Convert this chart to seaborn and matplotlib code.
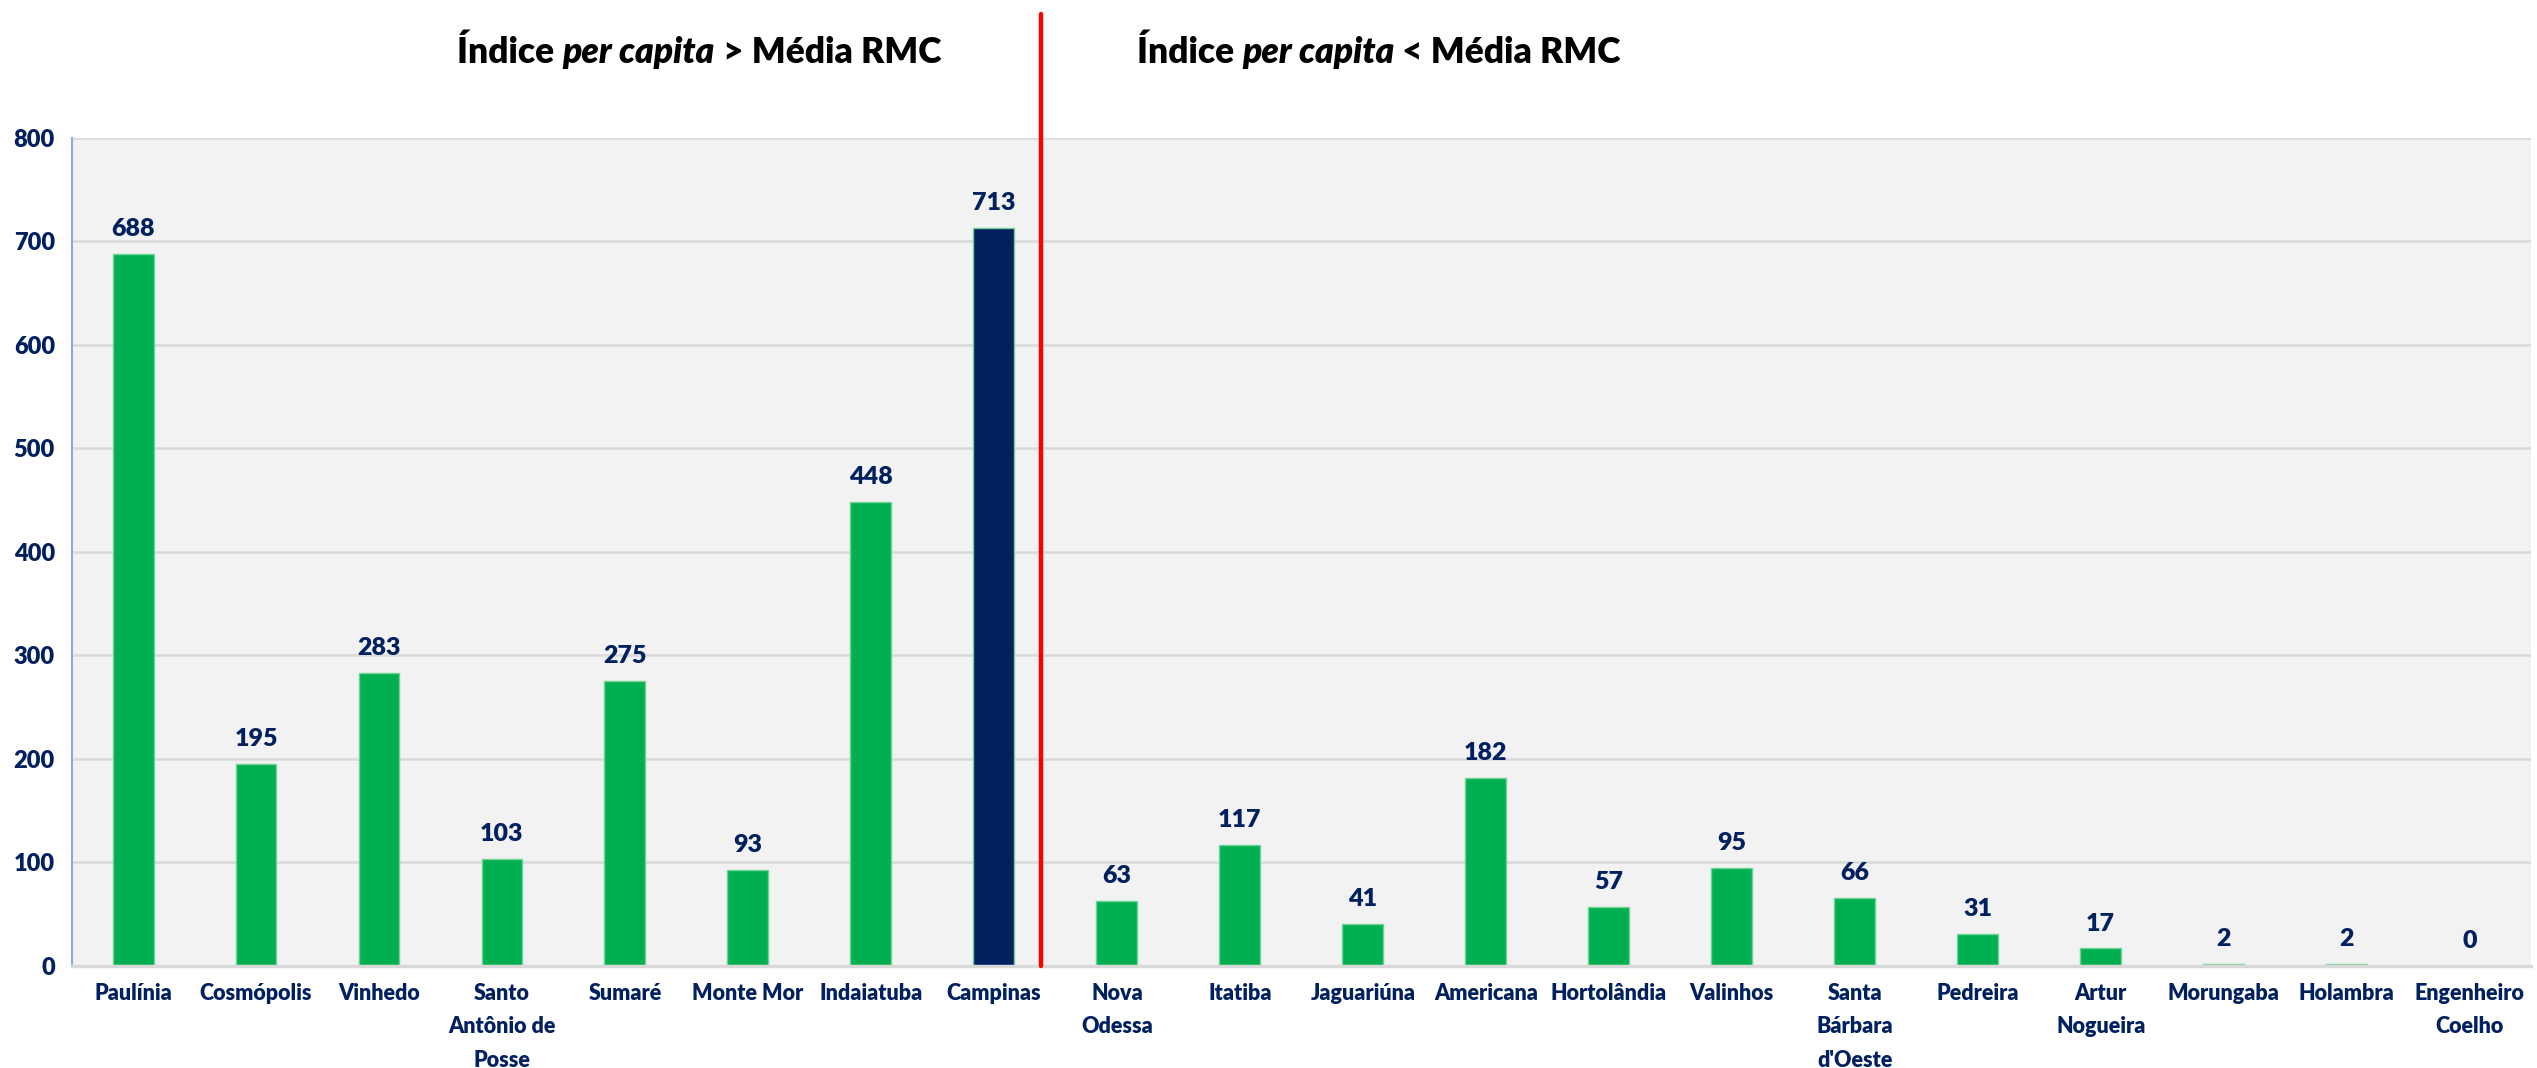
import matplotlib
matplotlib.use("Agg")
import matplotlib.pyplot as plt
import seaborn as sns

# Dados por municipio
municipios = ["Paulínia", "Cosmópolis", "Vinhedo", "Santo\nAntônio de\nPosse", "Sumaré",
              "Monte Mor", "Indaiatuba", "Campinas", "Nova\nOdessa", "Itatiba",
              "Jaguariúna", "Americana", "Hortolândia", "Valinhos", "Santa\nBárbara\nd'Oeste",
              "Pedreira", "Artur\nNogueira", "Morungaba", "Holambra", "Engenheiro\nCoelho"]
valores = [688, 195, 283, 103, 275, 93, 448, 713, 63, 117,
           41, 182, 57, 95, 66, 31, 17, 2, 2, 0]
destaque = "Campinas"
yticks = [0, 100, 200, 300, 400, 500, 600, 700, 800]

verde = "#00B050"
azul = "#002060"
cores = {m: (azul if m == destaque else verde) for m in municipios}

sns.set_style("white")
plt.rcParams["font.family"] = ["Lato", "DejaVu Sans"]

fig = plt.figure(figsize=(25.37, 10.68), dpi=100)
ax = fig.add_axes([0.0282, 0.0955, 0.9695, 0.7755])
ax.set_facecolor("#F2F2F2")

sns.barplot(x=municipios, y=valores, hue=municipios, palette=cores, legend=False,
            width=0.333, saturation=1, ax=ax, edgecolor="#6FD396", linewidth=1)
ax.set_axisbelow(True)

# Rotulos de valor
for cont in ax.containers:
    ax.bar_label(cont, fmt="%d", padding=10, color=azul, fontsize=18, fontweight="heavy")

ax.set_xlim(-0.5, 19.5)
ax.set_ylim(0, 800)
ax.set_yticks(yticks)
ax.yaxis.grid(True, color="#D9D9D9", lw=1.8)
ax.tick_params(axis="both", length=0, labelcolor=azul)
ax.tick_params(axis="y", pad=12, labelsize=17)
ax.tick_params(axis="x", pad=12, labelsize=15.5)
for lab in ax.get_xticklabels() + ax.get_yticklabels():
    lab.set_fontweight("heavy")
    lab.set_linespacing(1.75)

for s in ["top", "right"]:
    ax.spines[s].set_visible(False)
ax.spines["left"].set_color("#8FAADC")
ax.spines["left"].set_linewidth(1.5)
ax.spines["bottom"].set_color("#D9D9D9")
ax.spines["bottom"].set_linewidth(2.5)

# Linha divisoria
ax.axvline(7.38, ymin=0, ymax=1.15, color="red", lw=3.2, clip_on=False, zorder=5)


# Titulos com parte em italico
def titulo(xc, y, partes):
    fig.canvas.draw()
    r = fig.canvas.get_renderer()
    textos = []
    x = 0
    for txt, estilo in partes:
        t = fig.text(x, y, txt, fontsize=25.5, fontweight="heavy", style=estilo,
                     ha="left", va="center", color="black")
        w = t.get_window_extent(r).width / fig.bbox.width
        textos.append((t, x))
        x += w
    for t, x0 in textos:
        t.set_x(xc - x / 2 + x0)


titulo(0.2755, 0.951, [("Índice ", "normal"), ("per capita", "italic"), (" > Média RMC", "normal")])
titulo(0.5435, 0.951, [("Índice ", "normal"), ("per capita", "italic"), (" < Média RMC", "normal")])

ax.set_xlabel("")
ax.set_ylabel("")
fig.savefig("out.png", dpi=100)
